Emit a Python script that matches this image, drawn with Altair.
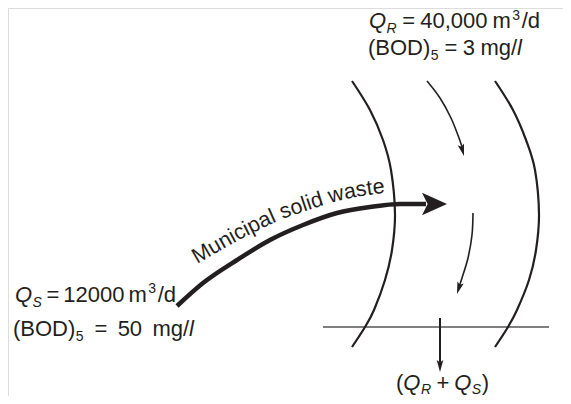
import math
import altair as alt
import pandas as pd

FONT = "Liberation Sans"
INK = "#231f20"
BASE = 22
SMALL = 14

# ---- geometry (screen px) ----
left_bank_x = [352, 370, 383, 391, 395, 392, 385, 374, 365, 352]
left_bank_y = [81, 110, 140, 170, 214, 250, 280, 310, 327, 347]
right_bank_x = [495, 513, 526, 535, 539, 536, 529, 517, 508, 495]
right_bank_y = [81, 110, 140, 170, 214, 250, 280, 310, 327, 347]
mix_x = [323, 549]
mix_y = [327, 327]

waste_x = [177, 203, 237, 270, 303, 337, 370, 400, 426]
waste_y = [306, 283, 260, 240, 225, 213, 207, 204, 204]
waste_tip = (447, 204)

upper_x = [427, 440, 451, 459, 463]
upper_y = [81, 98, 118, 138, 150]
upper_tip = (464, 156)
lower_x = [473, 472, 468, 462, 459]
lower_y = [213, 235, 258, 278, 287]
lower_tip = (457, 294)
down_x = [440, 440]
down_y = [318, 364]
down_tip = (440, 372)

# baseline of the curved label
label_path_x = [197, 237, 277, 305, 330, 355, 383, 400]
label_path_y = [264, 241, 221, 211, 203, 197, 193, 191]
curved_text = "Municipal solid waste"

# ---- text labels: (x start, x end, baseline y, superscript shift, runs(text, italic, role)) ----
labels = [
    (369, 540, 28, -8, [("Q", True, "b"), ("R", True, "sub"), (" = 40,000 m", False, "b"),
                        ("3", False, "sup"), ("/d", False, "b")]),
    (368, 522, 55, -9, [("(BOD)", False, "b"), ("5", False, "sub"), (" = 3 mg/", False, "b"),
                        ("l", True, "b")]),
    (15, 176, 302, -9, [("Q", True, "b"), ("S", True, "sub"), (" = 12000 m", False, "b"),
                        ("3", False, "sup"), ("/d", False, "b")]),
    (13, 194, 336, -9, [("(BOD)", False, "b"), ("5", False, "sub"), (" = 50 mg/", False, "b"),
                        ("l", True, "b")]),
    (396, 489, 390, -9, [("(", False, "b"), ("Q", True, "b"), ("R", True, "sub"), (" + ", False, "b"),
                         ("Q", True, "b"), ("S", True, "sub"), (")", False, "b")]),
]

W = {'Q': .778, 'R': .722, 'S': .667, ' ': .278, '=': .584, ',': .278, 'm': .833, '/': .278,
     'd': .556, '(': .333, ')': .333, 'B': .667, 'O': .778, 'D': .722, 'g': .556, 'l': .222,
     '+': .584, 'M': .833, 'u': .556, 'n': .556, 'i': .222, 'c': .5, 'p': .556, 'a': .556,
     's': .5, 'o': .556, 'w': .722, 't': .278, 'e': .556}


def width(s, fs):
    return sum(W.get(ch, .556) for ch in s) * fs


rows = []
for x0, x1, yb, sup_dy, runs in labels:
    role_map = {"b": (BASE, 0, 0.0), "sub": (SMALL, 5, 0.5), "sup": (SMALL, sup_dy, 1.5)}
    nat = 0.0
    nsp = 0
    for txt, it, role in runs:
        fs, dy, pad = role_map[role]
        nat += width(txt, fs) + 2 * pad
        nsp += txt.count(" ")
    extra = (x1 - x0 - nat) / nsp if nsp else 0.0
    x = x0
    for txt, it, role in runs:
        fs, dy, pad = role_map[role]
        x += pad
        dyy = dy - 1 if (role == "sub" and yb > 380) else dy
        for tok in txt.split(" "):
            if tok:
                rows.append(dict(x=x, y=yb + dyy, t=tok, fs=fs, it=it))
                x += width(tok, fs)
            x += width(" ", fs) + extra
        x -= width(" ", fs) + extra
        x += pad
text_df = pd.DataFrame(rows)


# ---- curved label ----
def param(xs, ys):
    s = [0.0]
    for i in range(1, len(xs)):
        s.append(s[-1] + math.hypot(xs[i] - xs[i - 1], ys[i] - ys[i - 1]))
    return s


ps = param(label_path_x, label_path_y)


def at(sv):
    sv = max(0, min(ps[-1], sv))
    for i in range(1, len(ps)):
        if sv <= ps[i]:
            f = (sv - ps[i - 1]) / (ps[i] - ps[i - 1])
            return (label_path_x[i - 1] + f * (label_path_x[i] - label_path_x[i - 1]),
                    label_path_y[i - 1] + f * (label_path_y[i] - label_path_y[i - 1]))
    return label_path_x[-1], label_path_y[-1]


def tangent(sv):
    a = at(sv - 14)
    b = at(sv + 14)
    return math.atan2(b[1] - a[1], b[0] - a[0])


CFS = 21.5
crow = []
sv = 0.0
for ch in curved_text:
    w = W.get(ch, .556) * CFS
    th = tangent(sv + w / 2)
    px, py = at(sv)
    crow.append(dict(x=px, y=py, t=ch, angle=math.degrees(th) % 360))
    sv += w
curve_df = pd.DataFrame(crow)


# ---- lines ----
def line_rows(name, xs, ys):
    return [dict(id=name, i=i, x=a, y=b) for i, (a, b) in enumerate(zip(xs, ys))]


banks_df = pd.DataFrame(line_rows("L", left_bank_x, left_bank_y) +
                        line_rows("R", right_bank_x, right_bank_y))
small_df = pd.DataFrame(line_rows("u", upper_x, upper_y) + line_rows("lo", lower_x, lower_y))
down_df = pd.DataFrame(line_rows("d", down_x, down_y))
mix_df = pd.DataFrame(line_rows("m", mix_x, mix_y))
waste_df = pd.DataFrame(line_rows("w", waste_x, waste_y))


def head(tip, prev, L):
    ang = math.atan2(tip[1] - prev[1], tip[0] - prev[0])
    cx = tip[0] - L / 2 * math.cos(ang)
    cy = tip[1] - L / 2 * math.sin(ang)
    return dict(x=cx, y=cy, angle=math.degrees(ang) % 360, size=L * L)


big_heads = pd.DataFrame([head(waste_tip, (waste_x[-1], waste_y[-1]), 25)])
small_heads = pd.DataFrame([
    head(upper_tip, (upper_x[-2], upper_y[-2]), 12),
    head(lower_tip, (lower_x[-2], lower_y[-2]), 12),
    head(down_tip, (down_x[0], down_y[0]), 12),
])

xs = alt.Scale(domain=[8, 563], nice=False, zero=False)
ys = alt.Scale(domain=[8, 396], nice=False, zero=False, reverse=True)
X = alt.X("x:Q", scale=xs, axis=None)
Y = alt.Y("y:Q", scale=ys, axis=None)


def lines(df, width_px, color=INK, interp="cardinal"):
    return alt.Chart(df).mark_line(strokeWidth=width_px, color=color, interpolate=interp,
                                   strokeCap="butt").encode(
        x=X, y=Y, detail="id:N", order="i:Q")


layers = [
    lines(mix_df, 1.4, "#555555", "linear"),
    lines(banks_df, 2.2),
    lines(small_df, 1.6),
    lines(down_df, 2.0, INK, "linear"),
    lines(waste_df, 4.5, INK, "monotone"),
    alt.Chart(big_heads).mark_point(shape="M 1 0 L -1 -0.9 L -0.55 0 L -1 0.9 Z", filled=True,
                                    opacity=1, color=INK).encode(
        x=X, y=Y, angle=alt.Angle("angle:Q", scale=None), size=alt.Size("size:Q", scale=None)),
    alt.Chart(small_heads).mark_point(shape="M 1 0 L -1 -0.55 L -0.6 0 L -1 0.55 Z", filled=True,
                                      opacity=1, color=INK).encode(
        x=X, y=Y, angle=alt.Angle("angle:Q", scale=None), size=alt.Size("size:Q", scale=None)),
    alt.Chart(text_df[~text_df.it]).mark_text(align="left", baseline="alphabetic", font=FONT,
                                               color=INK).encode(
        x=X, y=Y, text="t:N", size=alt.Size("fs:Q", scale=None)),
    alt.Chart(text_df[text_df.it]).mark_text(align="left", baseline="alphabetic", font=FONT,
                                              fontStyle="italic", color=INK).encode(
        x=X, y=Y, text="t:N", size=alt.Size("fs:Q", scale=None)),
    alt.Chart(curve_df).mark_text(align="left", baseline="alphabetic", font=FONT, fontSize=CFS,
                                  color=INK).encode(
        x=X, y=Y, text="t:N", angle=alt.Angle("angle:Q", scale=None)),
]

chart = alt.layer(*layers).properties(
    width=555, height=388, padding=0, autosize=alt.AutoSizeParams(type="none")
).configure_view(stroke=None).configure(background="white")

chart.save("out.html", embed_options={"renderer": "svg", "actions": False})
